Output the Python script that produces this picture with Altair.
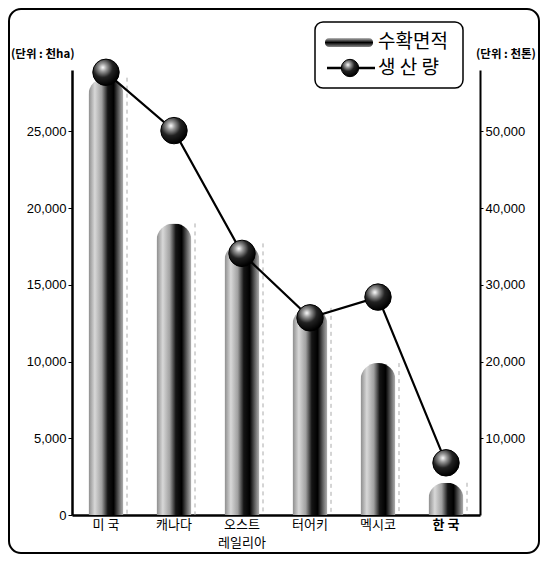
import altair as alt
import pandas as pd

countries = ["미 국", "캐나다", "오스트레일리아", "터어키", "멕시코", "한 국"]
area = [28500, 19000, 17700, 13500, 9900, 2100]          # 수확면적 (천ha)
production = [57700, 50100, 34100, 25700, 28400, 6800]   # 생산량 (천톤)
left_ticks = [0, 5000, 10000, 15000, 20000, 25000]
right_ticks = [10000, 20000, 30000, 40000, 50000]

df = pd.DataFrame({"country": countries, "area": area, "production": production})

W, H = 408, 445
KFONT = "Noto Sans CJK KR"
NFONT = "Liberation Sans"

bar_grad = alt.LinearGradient(
    gradient="linear", x1=0, x2=1, y1=0, y2=0,
    stops=[
        alt.GradientStop(color="#8a8a8a", offset=0),
        alt.GradientStop(color="#d8d8d8", offset=0.18),
        alt.GradientStop(color="#a0a0a0", offset=0.38),
        alt.GradientStop(color="#151515", offset=0.55),
        alt.GradientStop(color="#000000", offset=0.72),
        alt.GradientStop(color="#6a6a6a", offset=0.88),
        alt.GradientStop(color="#b5b5b5", offset=1),
    ],
)
sphere_grad = alt.RadialGradient(
    gradient="radial", x1=0.38, y1=0.32, r1=0, x2=0.38, y2=0.32, r2=0.68,
    stops=[
        alt.GradientStop(color="#ffffff", offset=0),
        alt.GradientStop(color="#9a9a9a", offset=0.22),
        alt.GradientStop(color="#222222", offset=0.55),
        alt.GradientStop(color="#000000", offset=1),
    ],
)
legend_bar_grad = alt.LinearGradient(
    gradient="linear", x1=0, x2=0, y1=0, y2=1,
    stops=[
        alt.GradientStop(color="#bbbbbb", offset=0),
        alt.GradientStop(color="#000000", offset=0.5),
        alt.GradientStop(color="#888888", offset=1),
    ],
)

xenc = alt.X(
    "country:N", sort=countries,
    scale=alt.Scale(paddingInner=0, paddingOuter=0),
    axis=alt.Axis(
        title=None, labelAngle=0, ticks=False, domainColor="black", domainWidth=2.5,
        labelFont=KFONT, labelFontSize=13, labelColor="black", labelPadding=3,
        labelLineHeight=18,
        labelExpr="datum.value == '오스트레일리아' ? ['오스트', '레일리아'] : datum.value",
        labelFontWeight={"condition": {"test": "datum.value == '한 국'", "value": "bold"}, "value": "normal"},
    ),
)

yleft = alt.Y(
    "area:Q", scale=alt.Scale(domain=[0, 29000], nice=False),
    axis=alt.Axis(
        title=None, orient="left", values=left_ticks, format=",.0f", grid=False,
        domainColor="black", domainWidth=2.5, tickColor="black", tickSize=4,
        labelFont=NFONT, labelFontSize=13, labelColor="black", labelPadding=2,
    ),
)
yright = alt.Y(
    "production:Q", scale=alt.Scale(domain=[0, 58000], nice=False),
    axis=alt.Axis(
        title=None, orient="right", values=right_ticks, format=",.0f", grid=False,
        domainColor="black", domainWidth=2, tickColor="black", tickSize=3,
        labelFont=NFONT, labelFontSize=13, labelColor="black", labelPadding=2,
    ),
)

base = alt.Chart(df)

bars = base.mark_bar(
    size=35, color=bar_grad, cornerRadiusTopLeft=17, cornerRadiusTopRight=17
).encode(x=xenc, y=yleft)

dashes = base.mark_rule(
    xOffset=21, color="#aaaaaa", strokeDash=[4, 4], strokeWidth=1
).encode(x=alt.X("country:N", sort=countries), y=alt.Y("area:Q"), y2=alt.datum(0))

left_layer = alt.layer(bars, dashes)

line = base.mark_line(color="black", strokeWidth=2.2).encode(
    x=alt.X("country:N", sort=countries), y=yright
)
spheres = base.mark_circle(
    size=700, color=sphere_grad, opacity=1, stroke="black", strokeWidth=1
).encode(x=alt.X("country:N", sort=countries), y=alt.Y("production:Q"))

right_layer = alt.layer(line, spheres)

one = alt.Data(values=[{"k": 1}])

frame = alt.Chart(one).mark_rect(
    fill=None, stroke="black", strokeWidth=2, cornerRadius=12
).encode(x=alt.value(-63), x2=alt.value(467), y=alt.value(-61), y2=alt.value(483))

legend_box = alt.Chart(one).mark_rect(
    fill="white", stroke="black", strokeWidth=1.5, cornerRadius=8
).encode(x=alt.value(243), x2=alt.value(391), y=alt.value(-48), y2=alt.value(18))

legend_bar = alt.Chart(one).mark_rect(
    color=legend_bar_grad, cornerRadius=4
).encode(x=alt.value(253), x2=alt.value(301), y=alt.value(-32), y2=alt.value(-23))

legend_line = alt.Chart(one).mark_rule(color="black", strokeWidth=2.5).encode(
    x=alt.value(255), x2=alt.value(303), y=alt.value(-2)
)
legend_sphere = alt.Chart(one).mark_circle(
    size=300, color=sphere_grad, opacity=1, stroke="black", strokeWidth=1
).encode(x=alt.value(278), y=alt.value(-2))

legend_t1 = alt.Chart(one).mark_text(
    text="수확면적", font=KFONT, fontSize=19, align="left", baseline="middle", color="black"
).encode(x=alt.value(306), y=alt.value(-28))
legend_t2 = alt.Chart(one).mark_text(
    text="생 산 량", font=KFONT, fontSize=19, align="left", baseline="middle", color="black"
).encode(x=alt.value(306), y=alt.value(-2))

unit_left = alt.Chart(one).mark_text(
    text="(단위 : 천ha)", font=KFONT, fontSize=11.5, fontWeight="bold", align="left", baseline="middle", color="black"
).encode(x=alt.value(-61), y=alt.value(-15))
unit_right = alt.Chart(one).mark_text(
    text="(단위 : 천톤)", font=KFONT, fontSize=11.5, fontWeight="bold", align="left", baseline="middle", color="black"
).encode(x=alt.value(404), y=alt.value(-15))

main = alt.layer(left_layer, right_layer).resolve_scale(y="independent")

chart = alt.layer(
    frame, main, legend_box, legend_bar, legend_line, legend_sphere,
    legend_t1, legend_t2, unit_left, unit_right,
).properties(
    width=W, height=H,
    autosize=alt.AutoSizeParams(type="none"),
    padding={"left": 64, "top": 62, "right": 60, "bottom": 39},
    background="white",
).configure_view(stroke=None)

chart.save("out.html", embed_options={"renderer": "svg", "actions": False})
